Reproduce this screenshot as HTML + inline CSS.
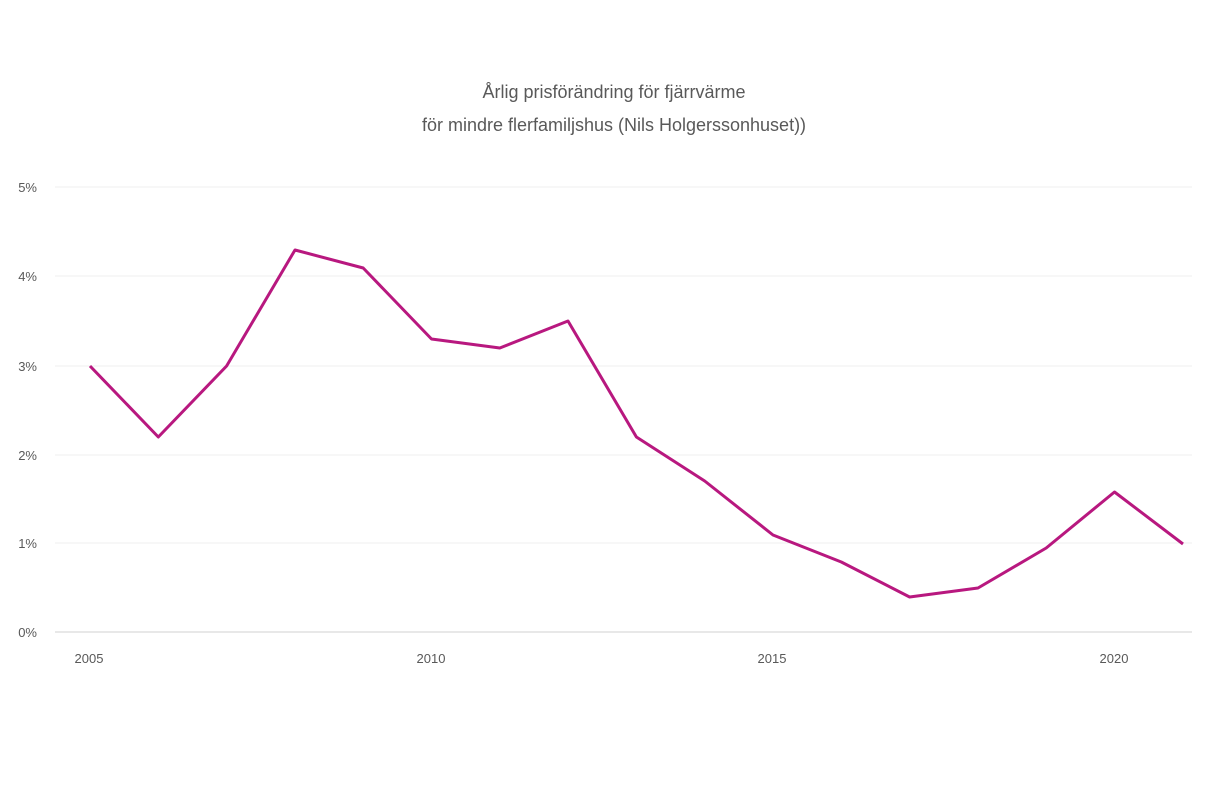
<!DOCTYPE html>
<html><head><meta charset="utf-8"><style>
html,body{margin:0;padding:0;background:#fff;}
</style></head><body>
<svg width="1210" height="806" xmlns="http://www.w3.org/2000/svg" font-family="Liberation Sans, sans-serif">
<rect width="1210" height="806" fill="#fff"/>
<text x="614" y="98" text-anchor="middle" font-size="18" fill="#595959">Årlig prisförändring för fjärrvärme</text>
<text x="614" y="131" text-anchor="middle" font-size="18" fill="#595959">för mindre flerfamiljshus (Nils Holgerssonhuset))</text>
<g stroke="#efefef" stroke-width="1">
<line x1="55" y1="187" x2="1192" y2="187"/>
<line x1="55" y1="276" x2="1192" y2="276"/>
<line x1="55" y1="366" x2="1192" y2="366"/>
<line x1="55" y1="455" x2="1192" y2="455"/>
<line x1="55" y1="543" x2="1192" y2="543"/>
</g>
<line x1="55" y1="632" x2="1192" y2="632" stroke="#d9d9d9" stroke-width="1.2"/>
<g font-size="13" fill="#595959" text-anchor="end">
<text x="37" y="192">5%</text>
<text x="37" y="281">4%</text>
<text x="37" y="371">3%</text>
<text x="37" y="460">2%</text>
<text x="37" y="548">1%</text>
<text x="37" y="637">0%</text>
</g>
<g font-size="13" fill="#595959" text-anchor="middle">
<text x="89" y="663">2005</text>
<text x="431" y="663">2010</text>
<text x="772" y="663">2015</text>
<text x="1114" y="663">2020</text>
</g>
<polyline fill="none" stroke="#b8187f" stroke-width="3" stroke-linejoin="round"
points="90,366 158.3,437 226.6,366 295,250 363.2,268 431.5,339 499.8,348 568,321 636.4,437 704.7,481 773,535 841.3,562 909.6,597 978,588 1046.2,548 1114.5,492 1183,544"/>
</svg>
</body></html>
